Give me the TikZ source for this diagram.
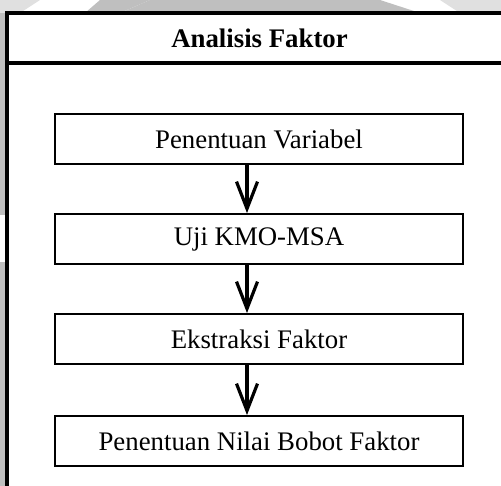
\documentclass[tikz,border=0pt]{standalone}
\usepackage{fontspec}
\setmainfont{Liberation Serif}
\usetikzlibrary{arrows.meta}
\begin{document}
\begin{tikzpicture}[x=1pt,y=-1pt,
  stepbox/.style={draw=black,line width=1.9pt,minimum width=408pt,minimum height=50pt,inner sep=0pt,font=\fontsize{26.8}{30}\selectfont},
  flow/.style={line width=3.2pt,-{Straight Barb[length=27pt,width=21pt,line width=3.2pt]}},
  frame/.style={line width=3.5pt,draw=black},
  wm/.style={fill=black!25,draw=none}]
\useasboundingbox (0,0) rectangle (501,486);
\clip (0,0) rectangle (501,486);
\fill[white] (0,0) rectangle (501,486);
% faint watermark remnants
\fill[wm] (0,0) rectangle (6,215);
\fill[wm] (0,262) rectangle (6,486);
\fill[black!12] (0,0) -- (40,0) -- (20,13) -- (0,13) -- cycle;
\fill[wm] (100,0) -- (150,0) -- (120,13) -- (85,13) -- cycle;
\fill[wm] (150,0) .. controls (230,-6) and (300,-6) .. (380,0) -- (420,13) -- (120,13) -- cycle;
\fill[black!12] (440,0) -- (501,0) -- (501,13) -- (460,13) -- cycle;
% frame
\draw[frame] (510,13) -- (7,13) -- (7,500);
\draw[frame] (7,63) -- (510,63);
\node[font=\fontsize{26.8}{30}\selectfont\bfseries] (title) at (259.5,38) {Analisis Faktor};
% steps
\node[stepbox] (b1) at (259,139) {Penentuan Variabel};
\node[stepbox] (b2) at (259,239) {Uji KMO-MSA};
\node[stepbox] (b3) at (259,339) {Ekstraksi Faktor};
\node[stepbox] (b4) at (259,441) {Penentuan Nilai Bobot Faktor};
\coordinate (ax) at (247,0);
\draw[flow] (b1.south -| ax) -- (b2.north -| ax);
\draw[flow] (b2.south -| ax) -- (b3.north -| ax);
\draw[flow] (b3.south -| ax) -- (b4.north -| ax);
\end{tikzpicture}
\end{document}
